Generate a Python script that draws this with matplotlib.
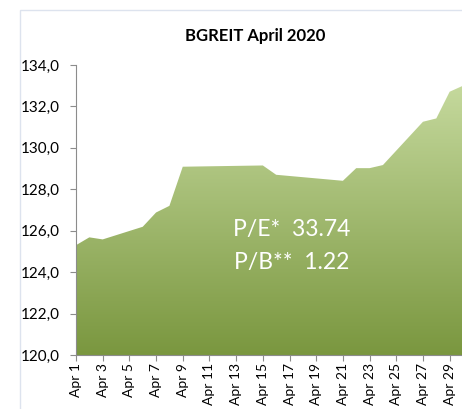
import datetime as dt

import matplotlib

matplotlib.use("Agg")
import matplotlib.dates as mdates
import matplotlib.pyplot as plt
import numpy as np
from matplotlib.colors import LinearSegmentedColormap
from matplotlib.patches import Rectangle

plt.rcParams["font.family"] = ["Lato", "DejaVu Sans"]

# BGREIT index, trading days only (weekends / holidays are bridged by the line)
days = [1, 2, 3, 6, 7, 8, 9, 15, 16, 21, 22, 23, 24, 27, 28, 29, 30]
values = [125.3, 125.68, 125.58, 126.19, 126.88, 127.2, 129.09, 129.15, 128.7,
          128.41, 129.02, 129.02, 129.17, 131.26, 131.42, 132.71, 133.0]
tick_days = list(range(1, 30, 2))
tick_labels = [f"Apr {d}" for d in tick_days]
title = "BGREIT April 2020"
note_lines = ["P/E*  33.74", "P/B**  1.22"]

dates = [dt.date(2020, 4, d) for d in days]
x = mdates.date2num(dates)

fig = plt.figure(figsize=(4.62, 4.09), dpi=100)
# chart frame like the spreadsheet chart box
fig.patches.append(Rectangle((20 / 462, -0.05), 1.0, (409 - 10) / 409 + 0.05,
                             transform=fig.transFigure, fill=False,
                             edgecolor="#dde3ee", linewidth=1.0))
ax = fig.add_axes([76 / 462, 54 / 409, 387 / 462, 290 / 409])

ymin, ymax = 120.0, 134.0
poly = ax.fill_between(x, values, ymin, color="none", linewidth=0)

# vertical gradient from light green (top of the area) to olive green (bottom)
cmap = LinearSegmentedColormap.from_list("grn", ["#7a973f", "#c5d99d"])
grad = np.linspace(0, 1, 256).reshape(-1, 1)
img = ax.imshow(grad, cmap=cmap, aspect="auto", origin="lower",
                extent=[x[0], x[-1], ymin, max(values)], zorder=1)
path = poly.get_paths()[0]
img.set_clip_path(path, transform=ax.transData)

ax.set_xlim(x[0], x[-1])
ax.set_ylim(ymin, ymax)
ax.set_yticks(np.arange(120, 134.1, 2))
ax.set_yticklabels([f"{v:.1f}".replace(".", ",") for v in np.arange(120, 134.1, 2)])
ax.set_xticks(mdates.date2num([dt.date(2020, 4, d) for d in tick_days]))
ax.set_xticklabels(tick_labels, rotation=90)

for side in ("top", "right"):
    ax.spines[side].set_visible(False)
for side in ("left", "bottom"):
    ax.spines[side].set_color("#8c8c8c")
ax.tick_params(axis="both", colors="#8c8c8c", labelcolor="#000000",
               labelsize=10, length=4, direction="out")
ax.tick_params(axis="x", pad=2)
ax.tick_params(axis="y", pad=8, labelsize=11)

fig.text(255 / 462, 1 - 36 / 409, title, ha="center", va="center",
         fontsize=12, fontweight="bold")

for i, line in enumerate(note_lines):
    ax.text(mdates.date2num(dt.date(2020, 4, 17)) + 0.15, 126.08 - i * 1.6, line,
            ha="center", va="center", color="white", fontsize=16.5, zorder=3)

fig.savefig("out.png", dpi=100)
